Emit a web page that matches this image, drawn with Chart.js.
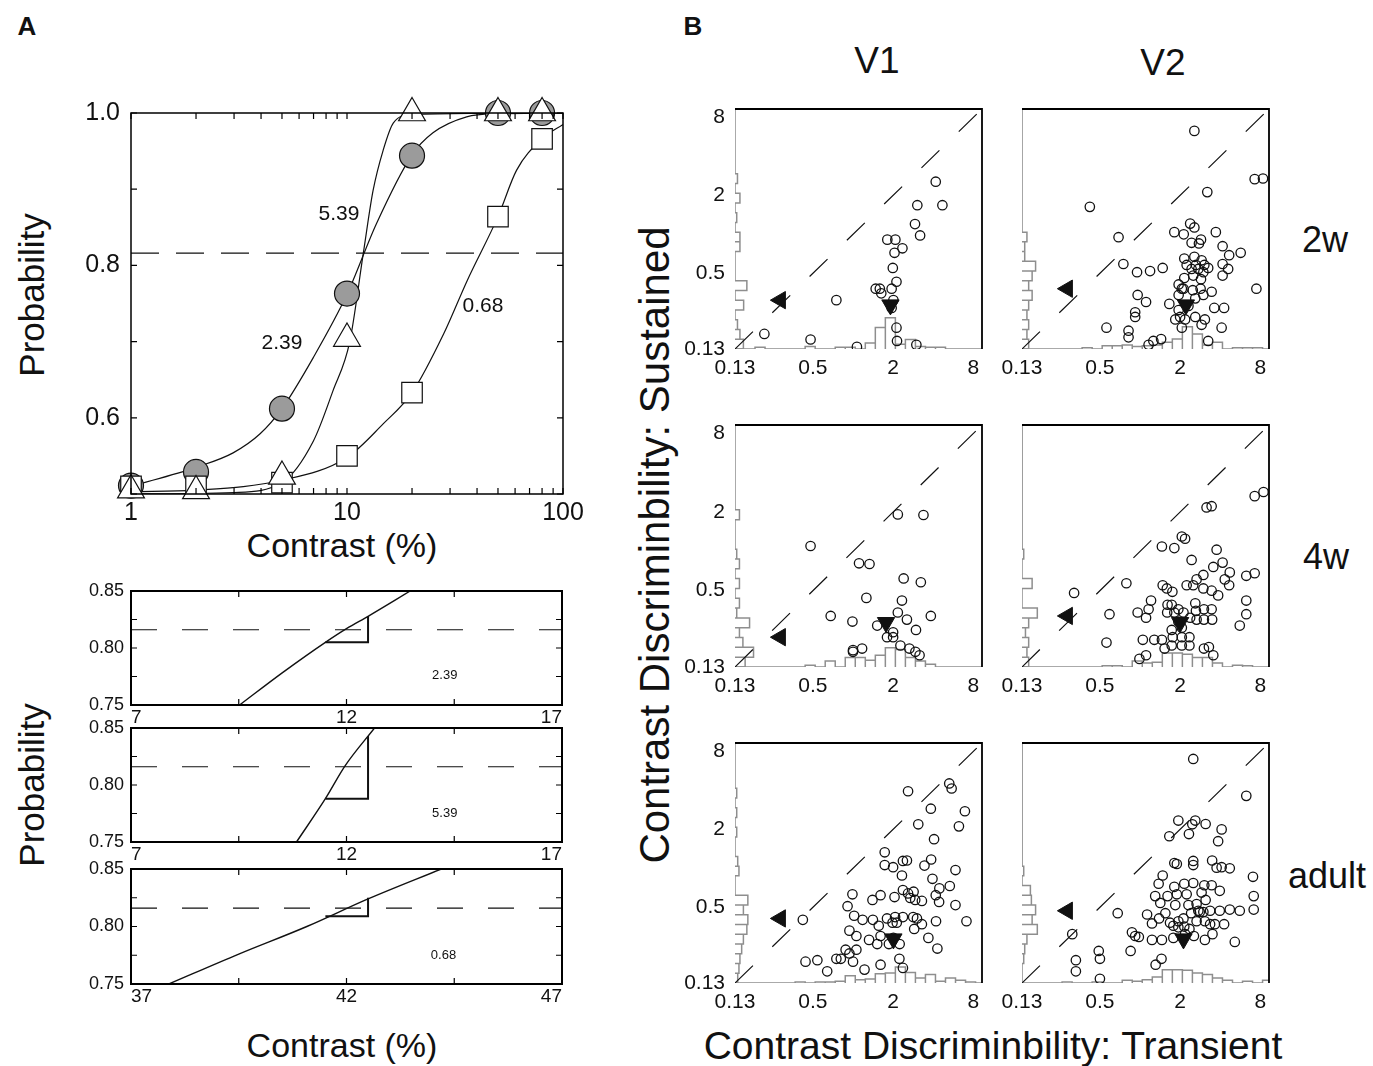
<!DOCTYPE html>
<html>
<head>
<meta charset="utf-8">
<script src="https://cdn.jsdelivr.net/npm/chart.js@4.4.0/dist/chart.umd.min.js"></script>
<style>
  body { margin:0; background:#fff; width:1373px; height:1066px; position:relative; overflow:hidden;
         font-family:"Liberation Sans", Arial, sans-serif; color:#111; }
  .lbl { position:absolute; white-space:nowrap; line-height:1; transform:translate(-50%,-50%); }
  .rot { transform:translate(-50%,-50%) rotate(-90deg); }
</style>
</head>
<body>
<div class="lbl" style="left:27px;top:26px;font-size:26px;font-weight:bold">A</div>
<div class="lbl" style="left:693px;top:26px;font-size:26px;font-weight:bold">B</div>
<div class="lbl rot" style="left:31px;top:295px;font-size:35px">Probability</div>
<div class="lbl" style="left:342px;top:545px;font-size:34px">Contrast (%)</div>
<div class="lbl rot" style="left:31px;top:785px;font-size:35px">Probability</div>
<div class="lbl" style="left:342px;top:1045px;font-size:34px">Contrast (%)</div>
<div class="lbl" style="left:877px;top:60px;font-size:37px">V1</div>
<div class="lbl" style="left:1163px;top:62px;font-size:37px">V2</div>
<div class="lbl" style="left:1325px;top:240px;font-size:36px">2w</div>
<div class="lbl" style="left:1326px;top:557px;font-size:36px">4w</div>
<div class="lbl" style="left:1327px;top:876px;font-size:36px">adult</div>
<div class="lbl rot" style="left:655px;top:545px;font-size:42px">Contrast Discriminbility: Sustained</div>
<div class="lbl" style="left:993px;top:1045px;font-size:39px">Contrast Discriminbility: Transient</div>

<script>
// ---------- panel A : psychometric data ----------
const contrastLevels = [1, 2, 5, 10, 20, 50, 80];
const pCircles   = [0.511, 0.529, 0.612, 0.763, 0.944, 1.0, 1.0];
const pTriangles = [0.505, 0.504, 0.523, 0.704, 1.0, 1.0, 1.0];
const pSquares   = [0.51, 0.51, 0.515, 0.55, 0.633, 0.864, 0.966];

// fitted curves
const fitX239 = [1, 2, 2.97, 3.96, 5, 6.98, 10, 13.7, 20, 25, 35.8, 50, 100];
const fitY239 = [0.51, 0.535, 0.554, 0.579, 0.612, 0.679, 0.762, 0.855, 0.945, 0.974, 0.995, 0.999, 1.0];
const fitX539 = [1, 3, 5, 7, 8.6, 10.3, 11.9, 13.2, 14.7, 16.4, 20, 100];
const fitY539 = [0.50, 0.502, 0.515, 0.57, 0.635, 0.70, 0.816, 0.898, 0.951, 0.987, 0.998, 1.0];
const fitX068 = [1, 2, 5, 10, 14.7, 20, 28, 36, 50, 61, 80, 100];
const fitY068 = [0.503, 0.505, 0.518, 0.548, 0.592, 0.633, 0.71, 0.78, 0.864, 0.925, 0.966, 0.985];
const threshold = 0.816;

// zoomed views around threshold
const zoomX239 = [9.52, 10.5, 11.51, 12.0, 12.51, 13.48];
const zoomY239 = [0.75, 0.778, 0.805, 0.817, 0.828, 0.85];
const slopeX239 = [11.51, 12.5, 12.5];
const slopeY239 = [0.805, 0.805, 0.828];
const zoomX539 = [10.84, 11.51, 11.97, 12.65];
const zoomY539 = [0.75, 0.788, 0.817, 0.85];
const slopeX539 = [11.51, 12.5, 12.5];
const slopeY539 = [0.788, 0.788, 0.843];
const zoomX068 = [37.88, 39.5, 41.08, 42.5, 44.2];
const zoomY068 = [0.75, 0.776, 0.80, 0.824, 0.85];
const slopeX068 = [41.51, 42.5, 42.5];
const slopeY068 = [0.809, 0.809, 0.825];

// ---------- panel B : transient vs sustained discriminability ----------
const bTicks = [0.13, 0.5, 2, 8];
const binEdges = [0.13, 0.1546, 0.1838, 0.2186, 0.26, 0.3092, 0.3677, 0.4372, 0.52, 0.6184, 0.7354, 0.8745,
  1.04, 1.2368, 1.4708, 1.749, 2.08, 2.4736, 2.9416, 3.498, 4.16, 4.947, 5.883, 6.996, 8.32, 9.894];

const v1_2w = [[4.18,2.55],[3.04,1.68],[4.69,1.68],[2.92,1.20],[3.19,0.98],[1.81,0.91],[2.08,0.91],[2.35,0.78],
  [2.05,0.72],[1.99,0.55],[2.12,0.43],[1.48,0.38],[1.59,0.38],[1.63,0.35],[1.95,0.38],[2.01,0.31],[1.95,0.27],
  [0.75,0.31],[0.216,0.17],[0.48,0.154],[1.07,0.135],[2.12,0.19],[2.14,0.15],[2.99,0.14]];
const v2_2w = [[2.56,6.3],[7.26,2.67],[8.38,2.70],[3.20,2.12],[0.42,1.63],[0.69,0.95],[1.81,1.04],[2.13,1.0],
  [2.38,1.21],[2.56,1.13],[2.87,0.91],[2.44,0.86],[2.77,0.85],[3.71,1.04],[4.17,0.81],[5.70,0.72],[4.67,0.69],
  [2.15,0.65],[2.56,0.67],[2.90,0.63],[3.04,0.58],[2.63,0.58],[2.24,0.58],[2.44,0.54],[2.74,0.54],[2.99,0.51],
  [3.25,0.55],[2.87,0.45],[2.51,0.48],[2.15,0.46],[4.17,0.59],[4.59,0.54],[4.17,0.48],[1.48,0.55],[1.19,0.52],
  [0.95,0.51],[0.75,0.59],[1.95,0.41],[2.12,0.38],[2.49,0.37],[2.85,0.38],[3.45,0.36],[2.99,0.34],[2.6,0.32],
  [2.31,0.28],[1.95,0.34],[2.06,0.38],[7.48,0.38],[0.96,0.34],[1.11,0.30],[1.66,0.29],[1.95,0.26],[2.0,0.23],
  [1.84,0.22],[2.18,0.22],[2.6,0.23],[3.07,0.22],[3.61,0.27],[4.10,0.19],[2.9,0.20],[2.06,0.19],[0.92,0.25],
  [0.92,0.23],[0.56,0.19],[0.82,0.18],[0.82,0.16],[1.26,0.15],[1.44,0.155],[1.16,0.14],[3.25,0.15],[4.28,0.27]];
const v1_4w = [[2.17,1.92],[3.38,1.90],[0.48,1.10],[1.11,0.81],[1.33,0.80],[2.40,0.62],[3.23,0.58],[1.26,0.44],
  [2.33,0.42],[2.17,0.34],[0.68,0.32],[0.99,0.29],[2.54,0.30],[3.84,0.32],[1.52,0.27],[2.0,0.24],[2.97,0.25],
  [1.80,0.22],[2.0,0.22],[2.27,0.19],[2.65,0.18],[2.94,0.17],[3.16,0.16],[1.0,0.175],[1.17,0.18],[1.0,0.17]];
const v2_4w = [[7.26,2.65],[8.46,2.85],[3.16,2.17],[3.45,2.22],[2.06,1.30],[2.18,1.25],[1.46,1.09],[1.81,1.06],
  [3.76,1.03],[2.44,0.86],[4.17,0.82],[3.55,0.76],[4.72,0.69],[7.26,0.68],[6.28,0.65],[4.33,0.61],[4.67,0.55],
  [2.99,0.66],[2.66,0.61],[2.24,0.55],[2.51,0.55],[1.48,0.55],[1.59,0.52],[1.75,0.49],[0.79,0.57],[2.99,0.52],
  [3.45,0.50],[3.86,0.46],[6.28,0.42],[6.28,0.33],[5.61,0.27],[1.21,0.42],[1.16,0.36],[0.96,0.34],[1.11,0.31],
  [0.59,0.33],[1.60,0.34],[1.73,0.39],[1.81,0.34],[1.94,0.36],[2.12,0.34],[2.6,0.40],[2.63,0.35],[3.02,0.36],
  [3.45,0.36],[3.48,0.30],[3.02,0.30],[2.66,0.30],[2.38,0.31],[1.61,0.39],[1.94,0.29],[1.73,0.25],[2.06,0.26],
  [1.76,0.22],[2.06,0.22],[2.35,0.22],[2.35,0.19],[2.06,0.19],[1.73,0.19],[1.53,0.18],[1.28,0.21],[1.46,0.21],
  [1.05,0.21],[0.56,0.20],[1.11,0.16],[3.02,0.18],[3.29,0.185],[3.55,0.16],[0.99,0.15],[0.32,0.48]];
const v1_adult = [[2.59,3.94],[5.28,4.53],[5.50,4.14],[3.84,2.89],[6.92,2.76],[3.09,2.19],[6.24,2.11],[4.06,1.68],
  [1.73,1.33],[2.37,1.14],[2.54,1.15],[3.44,1.05],[3.86,1.17],[1.73,1.06],[2.0,1.02],[2.33,0.88],[5.88,0.97],
  [3.95,0.83],[4.45,0.70],[5.33,0.73],[4.18,0.62],[4.43,0.55],[5.88,0.52],[2.37,0.68],[2.59,0.64],[2.85,0.66],
  [2.69,0.59],[2.93,0.57],[3.29,0.56],[2.05,0.60],[1.61,0.62],[1.40,0.57],[0.99,0.63],[0.91,0.51],[1.02,0.43],
  [1.18,0.40],[1.41,0.40],[1.56,0.36],[1.80,0.41],[1.98,0.38],[2.07,0.42],[2.13,0.38],[2.37,0.42],[2.83,0.42],
  [3.02,0.41],[3.29,0.37],[4.2,0.39],[7.11,0.39],[0.42,0.40],[0.94,0.33],[1.06,0.30],[1.32,0.28],[1.61,0.30],
  [1.86,0.26],[2.01,0.29],[2.24,0.26],[2.88,0.34],[3.68,0.29],[4.30,0.24],[1.52,0.26],[1.06,0.235],[0.88,0.235],
  [0.81,0.20],[0.75,0.20],[0.94,0.22],[1.0,0.19],[0.54,0.195],[0.44,0.19],[0.64,0.16],[1.22,0.165],[1.61,0.18],
  [2.23,0.20],[2.37,0.17]];
const v2_adult = [[2.51,7.0],[6.28,3.63],[1.94,2.34],[2.6,2.34],[2.47,2.19],[3.11,2.2],[4.10,2.0],[1.66,1.77],
  [2.33,1.84],[3.86,1.62],[1.81,1.10],[1.89,1.08],[2.51,1.14],[2.51,1.06],[3.48,1.15],[3.76,1.01],[4.10,1.02],
  [4.72,1.0],[7.05,0.86],[1.48,0.88],[1.38,0.76],[1.81,0.72],[2.15,0.76],[2.51,0.77],[3.04,0.74],[3.45,0.74],
  [3.97,0.67],[7.14,0.61],[7.14,0.48],[1.30,0.61],[1.42,0.54],[1.61,0.61],[1.89,0.63],[2.24,0.63],[2.90,0.65],
  [3.11,0.57],[2.66,0.53],[2.31,0.52],[1.84,0.52],[1.55,0.45],[1.68,0.38],[1.94,0.39],[2.12,0.41],[2.42,0.45],
  [2.74,0.47],[2.81,0.46],[2.99,0.46],[3.36,0.47],[3.97,0.47],[4.72,0.48],[5.61,0.47],[1.13,0.44],[1.23,0.375],
  [1.39,0.41],[1.78,0.36],[1.94,0.35],[2.15,0.355],[2.35,0.34],[2.66,0.39],[3.07,0.39],[3.36,0.37],[3.65,0.37],
  [4.28,0.37],[2.54,0.30],[3.07,0.28],[3.50,0.31],[2.18,0.31],[1.78,0.29],[1.46,0.28],[1.23,0.28],[5.15,0.27],
  [0.98,0.295],[0.85,0.23],[0.87,0.32],[0.92,0.30],[0.68,0.45],[0.49,0.23],[0.50,0.20],[0.33,0.195],[0.33,0.16],
  [0.50,0.14],[1.45,0.20],[1.31,0.18],[0.31,0.31]];

// medians (transient, sustained)
const medV1_2w = [1.91, 0.31], medV2_2w = [2.21, 0.38];
const medV1_4w = [1.77, 0.22], medV2_4w = [2.0, 0.32];
const medV1_ad = [2.01, 0.41], medV2_ad = [2.12, 0.47];

// histogram heights (% of cells) per bin: transient (bottom) and sustained (left)
const hT_v1_2w = [0,0,0.7,0,0,0,0,1,0,0,0.7,0.7,0,2.5,9,13,2,4,1,0.7,0.7,0,0,0,0];
const hS_v1_2w = [3.4,2,1,0,3.5,0,4.8,0,0,0,2,2,0,0.7,0,2,0,1,0,0,0,0,0,0,0];
const hT_v2_2w = [0,0,0,0,0,0,0.5,0,1.4,1.4,1.7,1,1.4,1.7,2.8,4.2,9.3,6.2,1.7,2.8,0,0.5,0.5,0.5,0];
const hS_v2_2w = [2.7,2,2.7,2,2.7,4.1,2.7,4.1,5.5,1.1,1.1,2,0,0,0,0,0,0.4,0,0,0,0,0,0,0];
const hT_v1_4w = [0,0,0,0,0,0,0,0.7,0,2.5,0,3.9,3.9,2.8,4.9,8,7.2,3.9,2.5,1.1,0,0,0,0,0];
const hS_v1_4w = [4.1,7.5,3.2,1.8,5.9,0.7,1.8,0,1.8,0,1.8,0.7,0,0,0,1.8,0,0,0,0,0,0,0,0,0];
const hT_v2_4w = [0,0,0,0,0,0,0,0,0.5,0.5,0,2.5,1.7,2,5.8,5.8,5.3,3.9,3.9,1.7,0,0.7,0.5,0,0];
const hS_v2_4w = [2.7,2,2.7,1.4,2.7,6.2,0,0,4.1,0,0,0.7,0.4,0,0,0.4,0,0.4,0,0,0,0,0,0,0];
const hT_v1_ad = [0,0,0,0,0,0,0.4,0,0.4,0.4,0.7,3,1.4,1.7,3.9,4.2,6.7,4.4,2.1,3.5,0.7,2.1,1.1,0.4,0];
const hS_v1_ad = [1.1,1.6,2,2.7,3.4,4.8,5.2,3.4,5.2,0,0,1.6,1.1,0,0,0.7,0,0.7,0,0.7,0,0,0,0,0];
const hT_v2_ad = [0,0,0,0,0.4,0,0,0.4,0,0,1.1,0.7,1.4,2.5,5.5,5.5,5.3,4.2,3.5,2.1,1.1,0,0.7,0,1.1];
const hS_v2_ad = [0,0,0.7,1.1,2,6.2,4.1,5.5,3.8,3.4,0,0.7,0.4,0,0,0.4,0.4,0,0,0,0,0,0,0,0];

Chart.defaults.font.family = '"Liberation Sans", Arial, sans-serif';
Chart.defaults.color = '#111';
Chart.defaults.animation = false;
Chart.defaults.plugins.legend.display = false;
Chart.defaults.plugins.tooltip.enabled = false;

// frame + inward tick marks
const framePlugin = {
  id: 'frame',
  afterDatasetsDraw(chart, args, o) {
    const ctx = chart.ctx, a = chart.chartArea;
    ctx.save();
    ctx.strokeStyle = '#000';
    if (o.tick) {
      ctx.lineWidth = o.tickWidth || 1.2;
      ctx.beginPath();
      chart.scales.x.ticks.forEach(t => {
        const p = chart.scales.x.getPixelForValue(t.value);
        ctx.moveTo(p, a.bottom); ctx.lineTo(p, a.bottom - o.tick);
        ctx.moveTo(p, a.top); ctx.lineTo(p, a.top + o.tick);
      });
      chart.scales.y.ticks.forEach(t => {
        const p = chart.scales.y.getPixelForValue(t.value);
        ctx.moveTo(a.left, p); ctx.lineTo(a.left + o.tick, p);
        ctx.moveTo(a.right, p); ctx.lineTo(a.right - o.tick, p);
      });
      ctx.stroke();
    }
    ctx.lineWidth = o.width;
    ctx.beginPath();
    if (o.sides === 'tr') {
      ctx.moveTo(a.left, a.top); ctx.lineTo(a.right, a.top); ctx.lineTo(a.right, a.bottom);
    } else {
      ctx.rect(a.left, a.top, a.right - a.left, a.bottom - a.top);
    }
    ctx.stroke();
    ctx.restore();
  }
};
// text placed at data coordinates
const notesPlugin = {
  id: 'notes',
  afterDatasetsDraw(chart, args, o) {
    if (!o.items) return;
    const ctx = chart.ctx;
    ctx.save();
    ctx.font = o.font;
    ctx.fillStyle = '#111';
    ctx.textAlign = 'center';
    ctx.textBaseline = 'middle';
    o.items.forEach(n => ctx.fillText(n.text, chart.scales.x.getPixelForValue(n.x), chart.scales.y.getPixelForValue(n.y)));
    ctx.restore();
  }
};
Chart.register(framePlugin, notesPlugin);

function makeCanvas(area, m) {
  const d = document.createElement('div');
  d.style.cssText = 'position:absolute;left:' + (area[0] - m[0]) + 'px;top:' + (area[1] - m[1]) + 'px;width:' +
    (area[2] - area[0] + m[0] + m[2]) + 'px;height:' + (area[3] - area[1] + m[1] + m[3]) + 'px';
  const c = document.createElement('canvas');
  d.appendChild(c);
  document.body.appendChild(d);
  return c;
}
function fixX(m) { return s => { s.height = m[3]; s.paddingLeft = 0; s.paddingRight = 0; }; }
function fixY(m) { return s => { s.width = m[0]; s.paddingTop = 0; s.paddingBottom = 0; }; }
function pts(xs, ys) { return xs.map((x, i) => ({x: x, y: ys[i]})); }
function setTicks(vals) { return s => { s.ticks = vals.map(v => ({value: v})); }; }
const noGrid = {display: false, drawTicks: false};

// ---------- panel A main ----------
(function() {
  const area = [131, 113, 563, 494], m = [70, 26, 30, 45];
  const logTicks = [1,2,3,4,5,6,7,8,9,10,20,30,40,50,60,70,80,90,100];
  const curve = (xs, ys) => ({data: pts(xs, ys), showLine: true, pointRadius: 0, borderColor: '#111',
    borderWidth: 1.2, cubicInterpolationMode: 'monotone', order: 4});
  new Chart(makeCanvas(area, m), {
    type: 'scatter',
    data: { datasets: [
      {data: [{x: 1, y: threshold}, {x: 100, y: threshold}], showLine: true, pointRadius: 0,
        borderColor: '#111', borderWidth: 1.2, borderDash: [28, 17], order: 5},
      curve(fitX239, fitY239), curve(fitX539, fitY539), curve(fitX068, fitY068),
      {data: pts(contrastLevels, pCircles), pointStyle: 'circle', pointRadius: 12.5, pointBackgroundColor: '#9b9b9b',
        pointBorderColor: '#111', pointBorderWidth: 1.2, clip: false, order: 3},
      {data: pts(contrastLevels, pSquares), pointStyle: 'rect', pointRadius: 14.5, pointBackgroundColor: '#fff',
        pointBorderColor: '#111', pointBorderWidth: 1.2, clip: false, order: 2},
      {data: pts(contrastLevels, pTriangles), pointStyle: 'triangle', pointRadius: 15.5, pointBackgroundColor: '#fff',
        pointBorderColor: '#111', pointBorderWidth: 1.2, clip: false, order: 1}
    ]},
    options: {
      responsive: true, maintainAspectRatio: false,
      layout: {padding: {left: 0, top: m[1], right: m[2], bottom: 0}},
      scales: {
        x: {type: 'logarithmic', min: 1, max: 100, afterFit: fixX(m), afterBuildTicks: setTicks(logTicks),
          grid: noGrid, border: {display: false},
          ticks: {autoSkip: false, maxRotation: 0, padding: 4, font: {size: 25},
            callback: v => (v === 1 || v === 10 || v === 100) ? String(v) : ''}},
        y: {min: 0.5, max: 1.0, afterFit: fixY(m), afterBuildTicks: setTicks([0.5, 0.6, 0.7, 0.8, 0.9, 1.0]),
          grid: noGrid, border: {display: false},
          ticks: {autoSkip: false, padding: 11, font: {size: 25},
            callback: (v, i) => (i % 2 === 1) ? v.toFixed(1) : ''}}
      },
      plugins: {
        frame: {tick: 6, width: 1.5},
        notes: {font: '21px "Liberation Sans", Arial, sans-serif', items: [
          {x: 9.18, y: 0.8675, text: '5.39'}, {x: 5.0, y: 0.698, text: '2.39'}, {x: 42.6, y: 0.747, text: '0.68'}]}
      }
    }
  });
})();

// ---------- panel A zoomed views ----------
function zoomPlot(area, xmin, curveX, curveY, slopeX, slopeY, label, labelX, labelY) {
  const m = [60, 10, 15, 26];
  const xt = [xmin, xmin + 2.5, xmin + 5, xmin + 7.5, xmin + 10];
  new Chart(makeCanvas(area, m), {
    type: 'scatter',
    data: { datasets: [
      {data: [{x: xmin, y: threshold}, {x: xmin + 10, y: threshold}], showLine: true, pointRadius: 0,
        borderColor: '#111', borderWidth: 1.2, borderDash: [26, 25]},
      {data: pts(curveX, curveY), showLine: true, pointRadius: 0, borderColor: '#111', borderWidth: 1.4,
        cubicInterpolationMode: 'monotone'},
      {data: pts(slopeX, slopeY), showLine: true, pointRadius: 0, borderColor: '#111', borderWidth: 2}
    ]},
    options: {
      responsive: true, maintainAspectRatio: false,
      layout: {padding: {left: 0, top: m[1], right: m[2], bottom: 0}},
      scales: {
        x: {min: xmin, max: xmin + 10, afterFit: fixX(m), afterBuildTicks: setTicks(xt),
          grid: noGrid, border: {display: false},
          ticks: {autoSkip: false, maxRotation: 0, padding: 1, align: 'inner', font: {size: 19},
            callback: (v, i) => (i % 2 === 0) ? String(v) : ''}},
        y: {min: 0.75, max: 0.85, afterFit: fixY(m), afterBuildTicks: setTicks([0.75, 0.775, 0.8, 0.825, 0.85]),
          grid: noGrid, border: {display: false},
          ticks: {autoSkip: false, padding: 7, font: {size: 18},
            callback: (v, i) => (i % 2 === 0) ? v.toFixed(2) : ''}}
      },
      plugins: {
        frame: {tick: 6, width: 2},
        notes: {font: '13px "Liberation Sans", Arial, sans-serif', items: [{x: labelX, y: labelY, text: label}]}
      }
    }
  });
}
zoomPlot([131, 591, 562, 705], 7, zoomX239, zoomY239, slopeX239, slopeY239, '2.39', 14.28, 0.776);
zoomPlot([131, 728, 562, 842], 7, zoomX539, zoomY539, slopeX539, slopeY539, '5.39', 14.28, 0.775);
zoomPlot([131, 869, 562, 984], 37, zoomX068, zoomY068, slopeX068, slopeY068, '0.68', 44.25, 0.775);

// ---------- panel B scatter panels ----------
const axisMin = 0.13, axisMax = 9.3, triPos = 0.285;
function histBottom(h) {
  const out = [];
  h.forEach((c, i) => { out.push({x: binEdges[i], y: 0}, {x: binEdges[i], y: c}, {x: binEdges[i + 1], y: c}, {x: binEdges[i + 1], y: 0}); });
  return out;
}
function histLeft(h) {
  const out = [];
  h.forEach((c, i) => { out.push({x: 0, y: binEdges[i]}, {x: c, y: binEdges[i]}, {x: c, y: binEdges[i + 1]}, {x: 0, y: binEdges[i + 1]}); });
  return out;
}
function panelB(area, cells, med, hT, hS, showY) {
  const m = [58, 14, 14, 32];
  const gray = '#8e8e8e';
  new Chart(makeCanvas(area, m), {
    type: 'scatter',
    data: { datasets: [
      {data: histBottom(hT), showLine: true, pointRadius: 0, borderColor: gray, borderWidth: 1.5,
        xAxisID: 'x', yAxisID: 'hy', order: 4},
      {data: histLeft(hS), showLine: true, pointRadius: 0, borderColor: gray, borderWidth: 1.5,
        xAxisID: 'hx', yAxisID: 'y', order: 4},
      {data: [{x: axisMin, y: axisMin}, {x: axisMax, y: axisMax}], showLine: true, pointRadius: 0,
        borderColor: '#111', borderWidth: 1.2, borderDash: [25, 27], order: 3},
      {data: cells.map(p => ({x: p[0], y: p[1]})), pointStyle: 'circle', pointRadius: 4.7,
        pointBackgroundColor: 'rgba(0,0,0,0)', pointBorderColor: '#111', pointBorderWidth: 1.3, order: 2},
      {data: [{x: med[0], y: triPos}], pointStyle: 'triangle', pointRotation: 180, pointRadius: 10,
        pointBackgroundColor: '#111', pointBorderColor: '#111', order: 1},
      {data: [{x: triPos, y: med[1]}], pointStyle: 'triangle', pointRotation: 270, pointRadius: 10,
        pointBackgroundColor: '#111', pointBorderColor: '#111', order: 1}
    ]},
    options: {
      responsive: true, maintainAspectRatio: false,
      layout: {padding: {left: 0, top: m[1], right: m[2], bottom: 0}},
      scales: {
        x: {type: 'logarithmic', min: axisMin, max: axisMax, afterFit: fixX(m), afterBuildTicks: setTicks(bTicks),
          grid: noGrid, border: {display: false},
          ticks: {autoSkip: false, maxRotation: 0, padding: 7, font: {size: 21}, callback: v => String(v)}},
        y: {type: 'logarithmic', min: axisMin, max: axisMax, afterFit: fixY(m), afterBuildTicks: setTicks(bTicks),
          grid: noGrid, border: {display: false},
          ticks: {display: showY, autoSkip: false, padding: 10, font: {size: 21}, callback: v => String(v)}},
        hx: {type: 'linear', min: 0, max: 100, display: false},
        hy: {type: 'linear', min: 0, max: 100, display: false}
      },
      plugins: { frame: {tick: 0, width: 1.8, sides: 'tr'} }
    }
  });
}
panelB([735, 109, 982, 349], v1_2w, medV1_2w, hT_v1_2w, hS_v1_2w, true);
panelB([1022, 109, 1269, 349], v2_2w, medV2_2w, hT_v2_2w, hS_v2_2w, false);
panelB([735, 425, 982, 667], v1_4w, medV1_4w, hT_v1_4w, hS_v1_4w, true);
panelB([1022, 425, 1269, 667], v2_4w, medV2_4w, hT_v2_4w, hS_v2_4w, false);
panelB([735, 743, 982, 983], v1_adult, medV1_ad, hT_v1_ad, hS_v1_ad, true);
panelB([1022, 743, 1269, 983], v2_adult, medV2_ad, hT_v2_ad, hS_v2_ad, false);
</script>
</body>
</html>
